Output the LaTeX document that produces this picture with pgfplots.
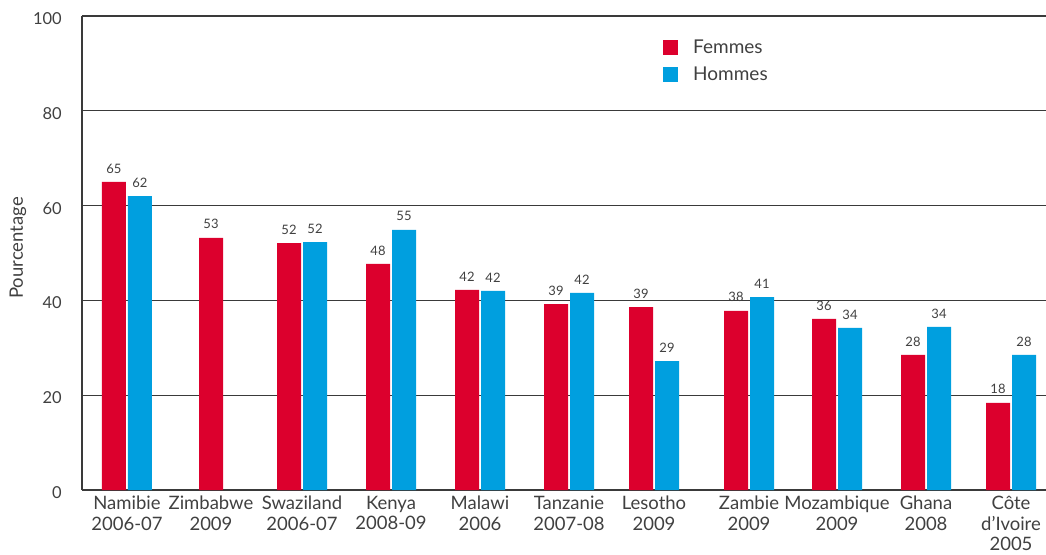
\documentclass[border=0pt]{standalone}
\usepackage{pgfplots}
\pgfplotsset{compat=1.18}
\usepackage{fontspec}
\setmainfont{Lato}
\definecolor{fem}{HTML}{DC002D}
\definecolor{hom}{HTML}{009FDF}
\definecolor{txt}{HTML}{404040}
\definecolor{grd}{HTML}{3A3A3A}
\begin{document}
\begin{tikzpicture}
\useasboundingbox (-82pt,-64pt) rectangle (964pt,490pt);
\begin{axis}[
  at={(0pt,0pt)}, anchor=south west,
  scale only axis, width=964pt, height=474pt,
  xmin=82, xmax=1046, ymin=0, ymax=100,
  ybar, bar width=24pt,
  ytick={0,20,...,100},
  xtick={127,211,302,391,480,569,654,749,837,926,1011},
  xticklabels={{Namibie\\2006-07},{Zimbabwe\\2009},{Swaziland\\2006-07},{Kenya\\2008-09},{Malawi\\2006},{Tanzanie\\2007-08},{Lesotho\\2009},{Zambie\\2009},{Mozambique\\2009},{Ghana\\2008},{Côte\\d’Ivoire\\2005}},
  axis lines*=left,
  axis line style={grd, line width=1.2pt},
  ymajorgrids, grid style={grd, line width=1.2pt},
  major tick length=0pt,
  /pgf/number format/assume math mode=true,
  yticklabel style={font=\fontsize{16.5}{19}\selectfont, text=txt, anchor=east, inner sep=0pt, yshift=-2.5pt},
  yticklabel shift=20pt,
  xticklabel style={font=\fontsize{18.5}{20.5}\selectfont, text=txt, align=center, anchor=north, inner sep=0pt},
  xticklabel shift=6pt,
  every axis y label/.style={at={(axis description cs:-0.0664,0.5105)}, rotate=90, anchor=center, font=\fontsize{18.5}{21}\selectfont, text=txt},
  ylabel={Pourcentage},
  point meta=explicit symbolic,
  nodes near coords,
  every node near coord/.append style={anchor=center, yshift=13.5pt, font=\fontsize{13}{15}\selectfont, text=txt},
  legend style={draw=none, fill=none, at={(axis cs:663,94.94)}, anchor=north west, inner sep=0pt, row sep=11.5pt, column sep=0pt, font=\fontsize{19}{21}\selectfont, text=txt, nodes={inner sep=0pt, anchor=west}},
  legend image code/.code={\fill[#1,draw=none] (0pt,-7.5pt) rectangle (15pt,7.5pt);},
  legend cell align=left,
  clip=false,
]
\addplot[fill=fem, draw=none, bar shift=-13pt] coordinates {
  (127,65.0) [65]
  (224,53.2) [53]
  (302,52.1) [52]
  (391,47.7) [48]
  (480,42.2) [42]
  (569,39.2) [39]
  (654,38.6) [39]
  (749,37.8) [38]
  (837,36.1) [36]
  (926,28.5) [28]
  (1011,18.4) [18]
};
\addlegendentry{\hspace{15pt}Femmes}
\addplot[fill=hom, draw=none, bar shift=13pt] coordinates {
  (127,62.0) [62]
  (302,52.3) [52]
  (391,54.9) [55]
  (480,42.0) [42]
  (569,41.6) [42]
  (654,27.2) [29]
  (749,40.7) [41]
  (837,34.2) [34]
  (926,34.4) [34]
  (1011,28.5) [28]
};
\addlegendentry{\hspace{15pt}Hommes}
\end{axis}
\end{tikzpicture}
\end{document}
